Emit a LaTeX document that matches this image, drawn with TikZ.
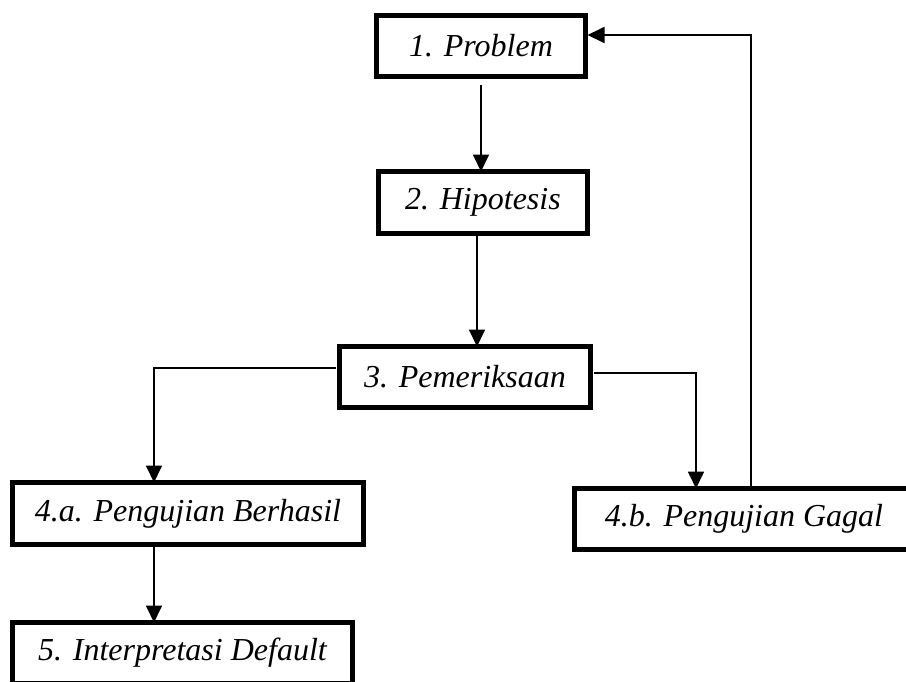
\documentclass[tikz,border=0pt]{standalone}
\usepackage{fontspec}
\setmainfont{Liberation Serif}
\usetikzlibrary{arrows.meta,calc}
\begin{document}
\begin{tikzpicture}[x=1pt,y=-1pt,
  box/.style={draw,line width=5pt,inner sep=0pt,outer sep=0pt,
    font=\fontsize{32}{38}\selectfont\itshape,fill=white},
  conn/.style={line width=1.8pt},
  arr/.style={conn,-{Triangle[length=17pt,width=16pt]}}]
\useasboundingbox (0,0) rectangle (906,681);
\clip (0,0) rectangle (906,681);
\node[box,minimum width=209pt,minimum height=61pt] (b1) at (481,46) {1. Problem};
\node[box,minimum width=209pt,minimum height=62pt] (b2) at (483,202.5) {2. Hipotesis};
\node[box,minimum width=251pt,minimum height=61pt] (b3) at (465,377) {3. Pemeriksaan};
\node[box,minimum width=351pt,minimum height=62pt] (b4a) at (188,513.5) {4.a. Pengujian Berhasil};
\node[box,minimum width=339pt,minimum height=61pt] (b4b) at (744,519) {4.b. Pengujian Gagal};
\node[box,minimum width=340pt,minimum height=61pt] (b5) at (182.5,653) {5. Interpretasi Default};
\coordinate (xa) at (154,0);
\coordinate (xb) at (696,0);
\coordinate (xc) at (751,35);
\draw[arr] ($(b1.south)+(0,8)$) -- (b1.south |- b2.north);
\draw[arr] ($(b2.south)+(-6,0)$) -- ($(b2.south |- b3.north)+(-6,0)$);
\draw[arr] ($(b3.west)+(-4,-9)$) -| (xa |- b4a.north);
\draw[arr] ($(b3.east)+(3,-4)$) -| (xb |- b4b.north);
\draw[arr] (xc |- b4b.north) |- ($(b1.east)+(2,-11)$);
\draw[arr] (xa |- b4a.south) -- (xa |- b5.north);
\end{tikzpicture}
\end{document}
